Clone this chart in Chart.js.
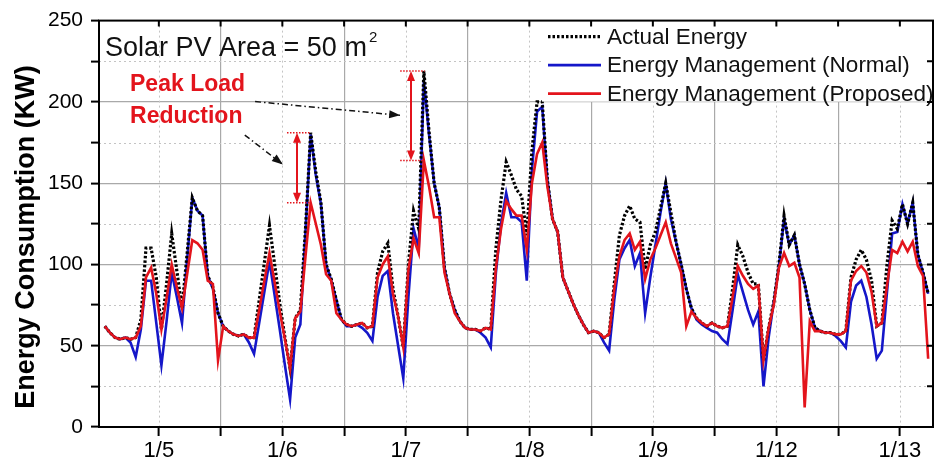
<!DOCTYPE html>
<html>
<head>
<meta charset="utf-8">
<script src="https://cdn.jsdelivr.net/npm/chart.js@4.4.1/dist/chart.umd.min.js"></script>
<style>
  html, body { margin: 0; padding: 0; background: #fff; }
</style>
</head>
<body>
<canvas id="energyChart" width="940" height="469"></canvas>
<script>
// hourly samples, index 0 = first sample (about 1/4 13:30)
const dayLabels = ["1/5", "1/6", "1/7", "1/8", "1/9", "1/12", "1/13"];

const actualEnergy = [
  62, 58, 55, 54, 55, 54, 55, 66, 110, 110,
  92, 60, 88, 119, 96, 73, 107, 141, 133, 130,
  93, 86, 70, 62, 59, 57, 56, 57, 55, 55,
  78, 101, 124, 100, 76, 55, 36, 67, 72, 122,
  181, 157, 138, 100, 91, 78, 66, 63, 62, 63,
  64, 61, 62, 95, 108, 113, 85, 68, 49, 100,
  133, 122, 219, 182, 150, 135, 98, 82, 72, 65,
  61, 60, 60, 59, 61, 60, 110, 140, 163, 155,
  146, 142, 118, 170, 200, 200, 152, 128, 120, 92,
  84, 76, 69, 63, 58, 59, 58, 55, 57, 88,
  118, 130, 136, 128, 126, 97, 112, 120, 135, 150,
  132, 114, 100, 85, 73, 67, 64, 62, 64, 62,
  61, 62, 85, 112, 105, 95, 88, 88, 41, 61,
  77, 100, 130, 112, 118, 100, 88, 72, 61, 59,
  58, 58, 57, 57, 59, 92, 103, 109, 103, 90,
  62, 64, 100, 127, 122, 137, 125, 138, 106, 95,
  82
];

const normalMgmt = [
  62, 58, 55, 54, 55, 52, 43, 60, 90, 90,
  64, 38, 65, 95, 80, 64, 103, 141, 133, 130,
  93, 85, 70, 62, 59, 57, 56, 57, 52, 45,
  64, 83, 102, 81, 60, 38, 17, 55, 63, 120,
  180, 155, 137, 100, 90, 78, 66, 62, 62, 63,
  61, 58, 53, 80, 93, 96, 70, 50, 30, 80,
  122, 110, 213, 180, 150, 135, 98, 82, 72, 65,
  61, 60, 60, 58, 55, 49, 95, 125, 144, 129,
  129, 126, 90, 158, 194, 197, 152, 128, 120, 92,
  84, 76, 69, 63, 58, 59, 58, 52, 47, 78,
  103, 110, 115, 99, 107, 70, 92, 112, 132, 150,
  128, 114, 100, 85, 73, 66, 63, 61, 59, 58,
  54, 51, 72, 94, 83, 72, 63, 71, 25, 55,
  77, 99, 128, 112, 118, 100, 88, 72, 61, 59,
  58, 58, 56, 53, 49, 77, 87, 90, 80, 63,
  42, 47, 83, 119, 120, 137, 125, 138, 106, 95,
  82
];

const proposedMgmt = [
  62, 58, 55, 54, 55, 54, 55, 62, 92, 98,
  82, 60, 79, 100, 86, 73, 94, 115, 113, 109,
  90, 88, 41, 62, 59, 57, 56, 57, 55, 55,
  72, 90, 107, 89, 71, 54, 36, 67, 71, 105,
  138, 125, 112, 94, 90, 70, 66, 63, 62, 63,
  64, 61, 62, 92, 100, 105, 82, 68, 49, 97,
  116, 107, 164, 148, 129, 129, 95, 82, 70, 65,
  61, 60, 60, 59, 61, 60, 98, 122, 139, 134,
  130, 130, 109, 150, 168, 175, 148, 128, 120, 92,
  84, 76, 69, 63, 58, 59, 58, 55, 57, 85,
  105, 115, 119, 109, 114, 91, 103, 110, 118, 126,
  113, 104, 95, 62, 71, 67, 64, 62, 64, 62,
  61, 62, 80, 99, 93, 88, 85, 87, 41, 61,
  75, 98, 107, 99, 101, 92, 12, 65, 59, 59,
  58, 58, 57, 57, 59, 90, 96, 99, 95, 83,
  62, 64, 87, 109, 107, 114, 108, 114, 99, 93,
  42
];

const FONT = '"Liberation Sans", Arial, sans-serif';
const GRID_SOLID = "#a9a9a9";
const GRID_DOT = "#c4c4c4";
const RED = "#e3141c";
const BLUE = "#1517c9";

// x axis: first midnight tick at hour 10.5, then every 12 hours
const tickHours = [];
for (let h = 10.5; h < 160; h += 12) tickHours.push(h);

const toPoints = (arr) => arr.map((v, i) => ({ x: i, y: v }));

Chart.defaults.font.family = FONT;

function arrowHead(ctx, x1, y1, x2, y2, len, wid) {
  const a = Math.atan2(y2 - y1, x2 - x1);
  ctx.beginPath();
  ctx.moveTo(x2, y2);
  ctx.lineTo(x2 - len * Math.cos(a) + wid / 2 * Math.sin(a), y2 - len * Math.sin(a) - wid / 2 * Math.cos(a));
  ctx.lineTo(x2 - len * Math.cos(a) - wid / 2 * Math.sin(a), y2 - len * Math.sin(a) + wid / 2 * Math.cos(a));
  ctx.closePath();
  ctx.fill();
}

// dotted minor grid lines
const dottedGrid = {
  id: "dottedGrid",
  beforeDatasetsDraw(chart) {
    const { ctx, chartArea: a, scales: { x, y } } = chart;
    ctx.save();
    ctx.strokeStyle = GRID_DOT;
    ctx.lineWidth = 1;
    ctx.setLineDash([2, 3]);
    ctx.beginPath();
    for (let v = 25; v < 250; v += 50) {
      const py = Math.round(y.getPixelForValue(v)) + 0.5;
      ctx.moveTo(a.left, py);
      ctx.lineTo(a.right, py);
    }
    tickHours.forEach((h, i) => {
      if (i % 2 === 0) {
        const px = Math.round(x.getPixelForValue(h)) + 0.5;
        ctx.moveTo(px, a.top);
        ctx.lineTo(px, a.bottom);
      }
    });
    ctx.stroke();
    ctx.restore();
  }
};

// legend box, texts and peak annotations
const overlay = {
  id: "overlay",
  afterDatasetsDraw(chart) {
    const { ctx, chartArea: a, scales: { x, y } } = chart;
    ctx.save();

    // legend
    ctx.fillStyle = "#fff";
    ctx.fillRect(542, a.top + 1, a.right - 543, 80);
    const rows = [
      { text: "Actual Energy", color: "#000", dash: [2.5, 2], width: 3.2 },
      { text: "Energy Management (Normal)", color: BLUE, dash: [], width: 2.6 },
      { text: "Energy Management (Proposed)", color: RED, dash: [], width: 2.6 }
    ];
    ctx.font = "22.5px " + FONT;
    ctx.textBaseline = "middle";
    rows.forEach((r, i) => {
      const ry = a.top + 16 + i * 28.5;
      ctx.strokeStyle = r.color;
      ctx.lineWidth = r.width;
      ctx.setLineDash(r.dash);
      ctx.beginPath();
      ctx.moveTo(548, ry);
      ctx.lineTo(601, ry);
      ctx.stroke();
      ctx.fillStyle = "#111";
      ctx.fillText(r.text, 607, ry + 1);
    });
    ctx.setLineDash([]);

    // solar area label
    ctx.fillStyle = "#111";
    ctx.textBaseline = "alphabetic";
    ctx.font = "27px " + FONT;
    const solar = "Solar PV Area = 50 m";
    ctx.fillText(solar, a.left + 6, a.top + 35);
    const sw = ctx.measureText(solar).width;
    ctx.font = "15px " + FONT;
    ctx.fillText("2", a.left + 8 + sw, a.top + 21);

    // red caption
    ctx.fillStyle = RED;
    ctx.font = "bold 23px " + FONT;
    ctx.textBaseline = "middle";
    ctx.fillText("Peak Load", x.getPixelForValue(4.9), y.getPixelForValue(210.5));
    ctx.fillText("Reduction", x.getPixelForValue(4.9), y.getPixelForValue(191));

    // dash-dot pointers
    const pointers = [
      [29.2, 200.2, 57.4, 191.7],
      [27.2, 179.6, 34.6, 161.5]
    ];
    ctx.strokeStyle = "#111";
    ctx.fillStyle = "#111";
    ctx.lineWidth = 1.5;
    pointers.forEach(([h1, v1, h2, v2]) => {
      const x1 = x.getPixelForValue(h1), y1 = y.getPixelForValue(v1);
      const x2 = x.getPixelForValue(h2), y2 = y.getPixelForValue(v2);
      ctx.setLineDash([6, 3, 1.5, 3]);
      ctx.beginPath();
      ctx.moveTo(x1, y1);
      ctx.lineTo(x2, y2);
      ctx.stroke();
      ctx.setLineDash([]);
      arrowHead(ctx, x1, y1, x2, y2, 11, 8);
    });

    // peak reduction double arrows with dotted caps
    const peaks = [
      { hour: 37.35, top: 181, bottom: 138, c0: 35.4, c1: 39.8 },
      { hour: 59.5, top: 219, bottom: 164, c0: 57.4, c1: 62.2 }
    ];
    peaks.forEach((p) => {
      const px = x.getPixelForValue(p.hour);
      const yt = y.getPixelForValue(p.top), yb = y.getPixelForValue(p.bottom);
      ctx.strokeStyle = RED;
      ctx.fillStyle = RED;
      ctx.lineWidth = 1.5;
      ctx.setLineDash([1.5, 1.5]);
      ctx.beginPath();
      [yt, yb].forEach((yy) => {
        ctx.moveTo(x.getPixelForValue(p.c0), yy);
        ctx.lineTo(x.getPixelForValue(p.c1), yy);
      });
      ctx.stroke();
      ctx.setLineDash([]);
      ctx.lineWidth = 2;
      ctx.beginPath();
      ctx.moveTo(px, yt + 8);
      ctx.lineTo(px, yb - 8);
      ctx.stroke();
      arrowHead(ctx, px, yb, px, yt, 10, 8);
      arrowHead(ctx, px, yt, px, yb, 10, 8);
    });

    ctx.restore();
  },
  afterDraw(chart) {
    const { ctx, chartArea: a, scales: { x, y } } = chart;
    ctx.save();
    ctx.strokeStyle = "#000";
    ctx.lineWidth = 2;
    // inner ticks on top and right edges
    ctx.beginPath();
    for (let v = 25; v < 250; v += 25) {
      const py = y.getPixelForValue(v);
      ctx.moveTo(a.right - 6, py);
      ctx.lineTo(a.right, py);
    }
    tickHours.forEach((h) => {
      const px = x.getPixelForValue(h);
      ctx.moveTo(px, a.top);
      ctx.lineTo(px, a.top + 6);
    });
    ctx.stroke();
    ctx.strokeRect(a.left, a.top, a.right - a.left, a.bottom - a.top);

    // y axis title, sitting a little below the axis centre as in the source
    ctx.translate(27, 237);
    ctx.rotate(-Math.PI / 2);
    ctx.fillStyle = "#000";
    ctx.font = "bold 27px " + FONT;
    ctx.textAlign = "center";
    ctx.textBaseline = "middle";
    ctx.fillText("Energy Consumption (KW)", 0, 0);
    ctx.restore();
  }
};

new Chart(document.getElementById("energyChart").getContext("2d"), {
  type: "line",
  data: {
    datasets: [
      {
        label: "Actual Energy",
        data: toPoints(actualEnergy),
        borderColor: "#000",
        borderWidth: 3.2,
        borderDash: [2.5, 2],
        pointRadius: 0,
        order: 1,
      },
      {
        label: "Energy Management (Normal)",
        data: toPoints(normalMgmt),
        borderColor: BLUE,
        borderWidth: 2.6,
        pointRadius: 0,
        order: 2,
      },
      {
        label: "Energy Management (Proposed)",
        data: toPoints(proposedMgmt),
        borderColor: RED,
        borderWidth: 2.6,
        pointRadius: 0,
        order: 0,
      },
    ],
  },
  options: {
    responsive: false,
    animation: false,
    layout: { padding: { top: 15, right: 7, left: 0, bottom: 0 } },
    plugins: {
      legend: { display: false },
      tooltip: { enabled: false },
    },
    scales: {
      x: {
        type: "linear",
        min: -1.13,
        max: 160.94,
        afterBuildTicks: (scale) => {
          scale.ticks = tickHours.map((h) => ({ value: h }));
        },
        afterFit: (scale) => {
          scale.height = 42;
        },
        ticks: {
          autoSkip: false,
          maxRotation: 0,
          padding: 2,
          color: "#000",
          font: { size: 22 },
          callback: (v, i) => (i % 2 === 0 ? dayLabels[i / 2] : ""),
        },
        grid: {
          color: (c) => (c.index % 2 === 1 ? GRID_SOLID : "rgba(0,0,0,0)"),
          lineWidth: 1.2,
          tickLength: 9,
          tickColor: "#000",
          tickWidth: 2,
        },
        border: { display: false },
      },
      y: {
        min: 0,
        max: 250,
        afterFit: (scale) => {
          scale.width = 99;
        },
        ticks: {
          stepSize: 25,
          autoSkip: false,
          padding: 8,
          color: "#000",
          font: { size: 21 },
          callback: (v) => (v % 50 === 0 ? v : ""),
        },
        grid: {
          color: (c) =>
            c.tick && c.tick.value % 50 === 0 && c.tick.value > 0 && c.tick.value < 250
              ? GRID_SOLID
              : "rgba(0,0,0,0)",
          lineWidth: 1.2,
          tickLength: 8,
          tickColor: "#000",
          tickWidth: 2,
        },
        border: { display: false },
        title: { display: false },
      },
    },
  },
  plugins: [dottedGrid, overlay],
});
</script>
</body>
</html>
